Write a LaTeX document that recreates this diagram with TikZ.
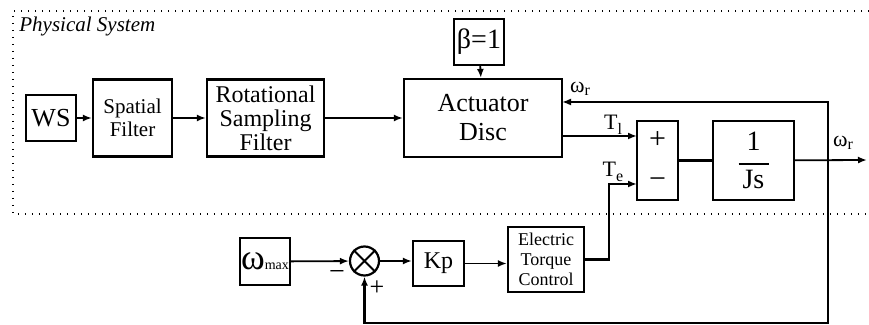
\documentclass[tikz,border=0pt]{standalone}
\usepackage{fontspec}
\setmainfont{Liberation Serif}
\usetikzlibrary{arrows.meta,calc}

\newcommand{\omr}{ω\raisebox{-0.3ex}{\footnotesize r}}
\newcommand{\fsz}[1]{\fontsize{#1}{#1}\selectfont}

\begin{document}
\begin{tikzpicture}[x=0.5pt,y=-0.5pt,
  block/.style={draw, line width=1.1pt, inner sep=1pt, align=center},
  summer/.style={draw, circle, line width=1.1pt, minimum size=14.5pt, inner sep=0pt},
  conn/.style={-{Latex[length=4.5pt,width=3.5pt]}, line width=0.9pt},
  link/.style={line width=0.9pt},
  fback/.style={-{Latex[length=4.5pt,width=3.5pt]}, line width=1.1pt},
  zone/.style={line width=0.6pt, dash pattern=on 0.7pt off 2.8pt},
  sig/.style={font=\fsz{11}, inner sep=0pt},
]
\useasboundingbox (0,0) rectangle (869,325);

% physical system region
\draw[zone] (869,11) -- (13,11) -- (13,214) -- (869,214);
\node[anchor=west, font=\fsz{10.5}\itshape, inner sep=0pt] (phys) at (19,26) {Physical System};

% upper chain
\node[block, minimum width=25pt, minimum height=23pt, font=\fsz{13}] (ws) at (51,118) {WS};
\node[block, minimum width=39.5pt, minimum height=38.5pt, font=\fontsize{10.5}{11.5}\selectfont] (spat) at (132.5,118) {Spatial\\Filter};
\node[block, minimum width=58.5pt, minimum height=38.5pt, font=\fontsize{12}{12}\selectfont] (rot) at (265.5,118) {Rotational\\Sampling\\Filter};
\node[block, minimum width=79pt, minimum height=39pt, font=\fontsize{13}{14.5}\selectfont] (act) at (483,118) {Actuator\\Disc};
\node[block, minimum width=25pt, minimum height=23pt, font=\fsz{14}] (beta) at (479,42) {β=1};
\node[block, minimum width=20.5pt, minimum height=39.5pt, font=\fontsize{15}{15}\selectfont] (sum) at (657.5,160.5) {+\\[5pt]−};
\node[block, minimum width=40.5pt, minimum height=39.5pt, font=\fsz{14}] (js) at (753.5,160.5) {1\\[-7pt]\rule{15pt}{0.6pt}\\[-2pt]Js};

\coordinate (tl) at (637,136);
\coordinate (te) at (637,184);
\coordinate (actin) at (562,102);
\coordinate (tap) at (828,160);
\coordinate (out) at (867,160);
\coordinate (fbcorner) at (828,323);

\draw[conn] (ws) -- (spat);
\draw[conn] (spat) -- (rot);
\draw[conn] (rot) -- (act);
\draw[conn] (beta) -- (act);
\draw[conn] (act.east |- tl) -- (tl);
\draw[fback, -] (sum) -- (js);
\draw[conn] (js) -- (out);
\draw[fback] (tap) |- (actin);

\node[sig] (omr1) at (580,89) {\omr};
\node[sig] (tll) at (613,125) {T\raisebox{-0.5ex}{\footnotesize l}};
\node[sig] (tel) at (613,172) {T\raisebox{-0.5ex}{\footnotesize e}};
\node[sig] (omr2) at (843,143) {\omr};

% lower control loop
\node[block, minimum width=25pt, minimum height=23.5pt, inner sep=0pt] (wmax) at (265,261.5) {{\fsz{18}ω}{\fsz{7}max}};
\node[summer] (cmp) at (364.5,261) {};
\draw[link] (cmp.45) -- (cmp.225) (cmp.135) -- (cmp.315);
\node[block, minimum width=25.5pt, minimum height=22.5pt, font=\fsz{12}] (kp) at (438.5,263.5) {Kp};
\node[block, minimum width=38pt, minimum height=32.5pt, font=\fontsize{9}{10}\selectfont] (etc) at (546,259.5) {Electric\\Torque\\Control};

\draw[conn] (wmax) -- (cmp);
\draw[conn] (cmp.east) -- (kp.west |- cmp.east);
\draw[conn] (kp) -- (etc.west |- kp);
\draw[fback] (etc.east) -- ++(24,0) |- (te);
\draw[fback] (tap) -- (fbcorner) -| (cmp.south);

\node[sig, font=\fsz{14}] (minus) at (337,276) {−};
\node[sig, font=\fsz{13}] (plus) at (377,288) {+};
\end{tikzpicture}
\end{document}
